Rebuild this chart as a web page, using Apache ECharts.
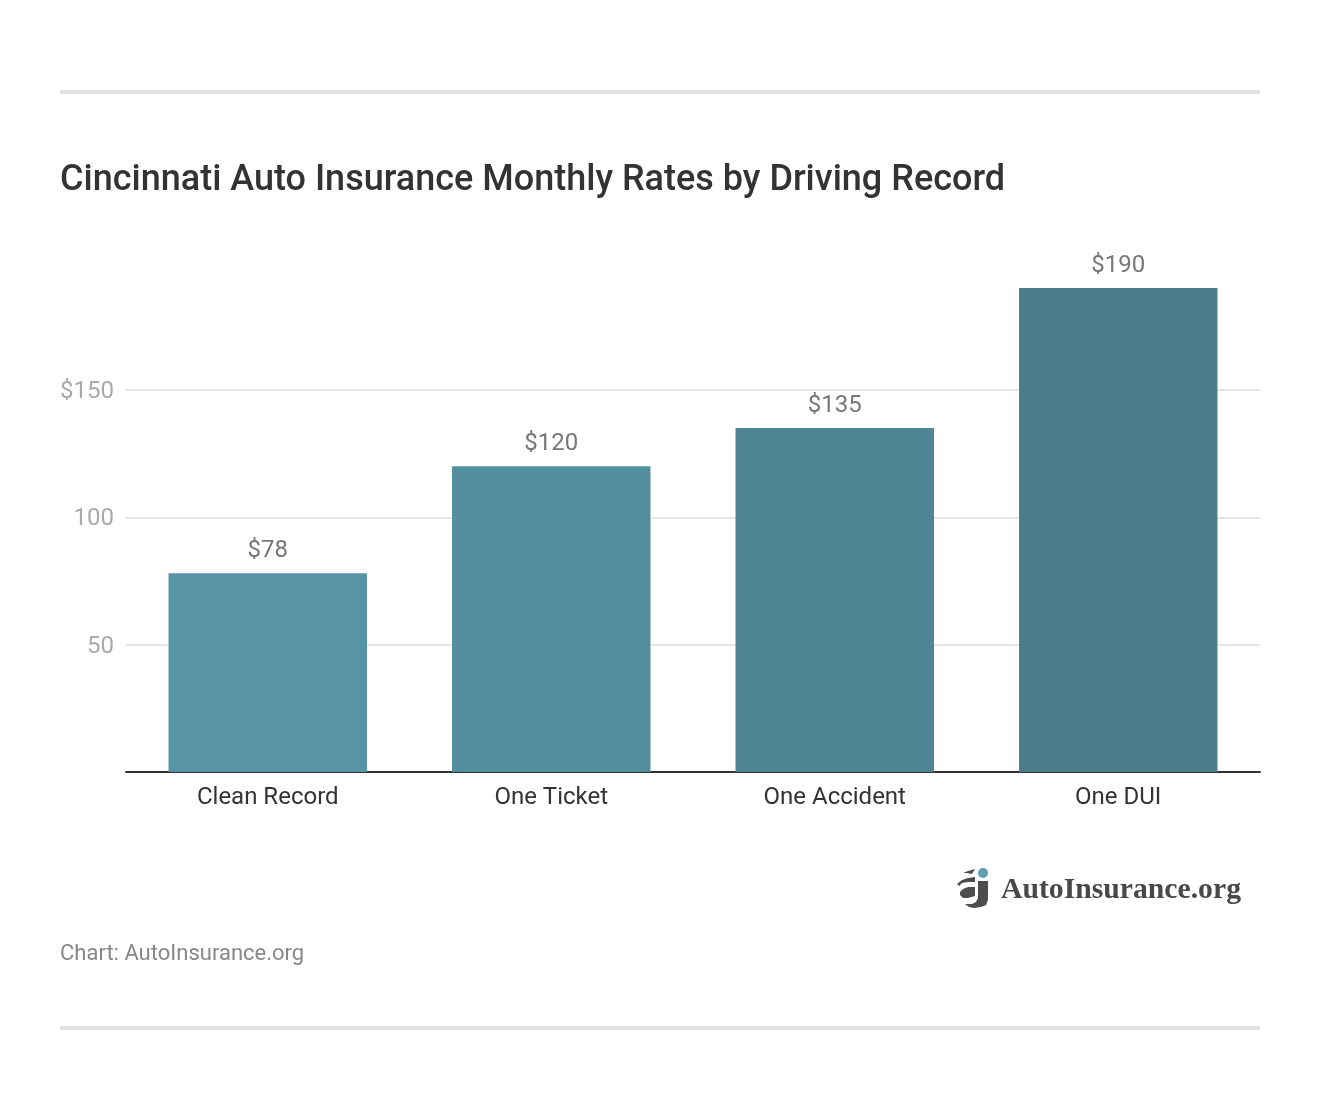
<!DOCTYPE html>
<html>
<head>
<meta charset="utf-8">
<style>html,body{margin:0;padding:0;background:#fff}#c{width:1320px;height:1110px}</style>
<script src="https://cdn.jsdelivr.net/npm/echarts@6/dist/echarts.min.js"></script>
</head>
<body>
<div id="c"></div>
<script>
const categories = ['Clean Record', 'One Ticket', 'One Accident', 'One DUI'];
const rates = [78, 120, 135, 190];
const barColors = ['#5795a6', '#538e9e', '#4f8494', '#4a7c8a'];
const yTicks = { 50: '50', 100: '100', 150: '$150' };
const titleText = 'Cincinnati Auto Insurance Monthly Rates by Driving Record';
const sourceText = 'Chart: AutoInsurance.org';
const logoText = 'AutoInsurance.org';

const chart = echarts.init(document.getElementById('c'), null, { renderer: 'canvas' });
chart.setOption({
  animation: false,
  backgroundColor: '#ffffff',
  textStyle: { fontFamily: 'Roboto' },
  title: {
    text: titleText, left: 60, top: 161,
    padding: 0,
    textStyle: { fontFamily: 'Roboto', fontSize: 36, fontWeight: 500, color: '#333333', lineHeight: 40 }
  },
  grid: { left: 126, right: 60, top: 288, bottom: 338, containLabel: false },
  xAxis: {
    type: 'category', data: categories,
    axisLine: { lineStyle: { color: '#333333', width: 2 } },
    axisTick: { show: false },
    axisLabel: { fontFamily: 'Roboto', fontSize: 24, color: '#333333', margin: 14 }
  },
  yAxis: {
    type: 'value', min: 0, max: 190, interval: 50,
    axisLine: { show: false }, axisTick: { show: false },
    axisLabel: {
      fontFamily: 'Roboto', fontSize: 24, color: '#aaaaaa', margin: 12,
      verticalAlign: 'top', lineHeight: 4,
      showMinLabel: false, showMaxLabel: false,
      formatter: v => yTicks[v] || ''
    },
    splitLine: { showMinLine: false, showMaxLine: false, lineStyle: { color: '#e6e6e6', width: 2 } }
  },
  series: [{
    type: 'bar', barWidth: '70%',
    data: rates.map((v, i) => ({ value: v, itemStyle: { color: barColors[i] } })),
    label: {
      show: true, position: 'top', distance: 10,
      fontFamily: 'Roboto', fontSize: 24, color: '#777777',
      formatter: p => '$' + p.value
    }
  }],
  graphic: [
    { type: 'rect', shape: { x: 60, y: 90, width: 1200, height: 4 }, style: { fill: '#e0e0e0' } },
    { type: 'rect', shape: { x: 60, y: 1026, width: 1200, height: 4 }, style: { fill: '#e0e0e0' } },
    { type: 'text', x: 60, y: 943, style: { text: sourceText, font: '22px Roboto', fill: '#888888' } },
    { type: 'text', x: 1001, y: 875, style: { text: logoText, font: 'bold 29.7px "Liberation Serif"', fill: '#484848' } },
    { type: 'circle', shape: { cx: 983, cy: 873, r: 5 }, style: { fill: '#5a9fb5' } },
    { type: 'polygon', shape: { points: [[978,881],[988,881],[988,900],[986,905],[981,907],[974,908],[969,907],[965,904],[972,904],[976,902],[978,898]] }, style: { fill: '#4d4d4d' } },
    { type: 'polygon', shape: { points: [[957,884],[962,880],[968,878],[975,877],[975,882],[968,882],[962,883],[959,886]] }, style: { fill: '#4d4d4d' } },
    { type: 'polygon', shape: { points: [[963,873],[968,871],[975,869],[972,874],[967,873]] }, style: { fill: '#4d4d4d' } },
    { type: 'polygon', shape: { points: [[975,887],[975,896],[968,898],[963,898],[960,895],[960,892],[963,889],[968,887]] }, style: { fill: '#4d4d4d' } }
  ]
});
</script>
</body>
</html>
